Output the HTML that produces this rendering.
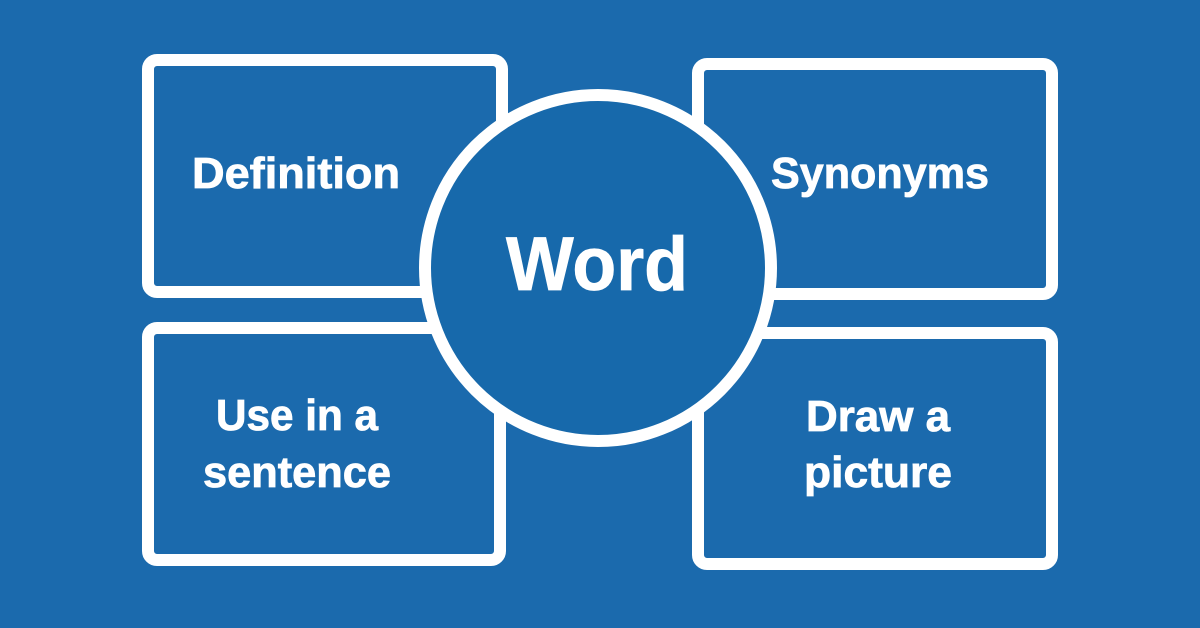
<!DOCTYPE html>
<html><head><style>html,body{margin:0;padding:0;background:#1b6aad;}svg{display:block}</style></head>
<body>
<svg width="1200" height="628" xmlns="http://www.w3.org/2000/svg">
<rect width="1200" height="628" fill="#1b6aad"/>
<g fill="none" stroke="#fff" stroke-width="12">
<rect x="148" y="60" width="354" height="232" rx="9"/>
<rect x="698" y="64" width="354" height="230" rx="9"/>
<rect x="148" y="328" width="352" height="232" rx="9"/>
<rect x="698" y="333" width="354" height="231" rx="9"/>
</g>
<circle cx="598" cy="268" r="173" fill="#1769ab" stroke="#fff" stroke-width="12"/>
<g fill="#fff" stroke="#fff" stroke-width="0.8" font-family="Liberation Sans, sans-serif" font-weight="bold" text-anchor="middle">
<text x="296" y="188" font-size="44" textLength="208" lengthAdjust="spacingAndGlyphs">Definition</text>
<text x="880" y="188" font-size="44" textLength="218" lengthAdjust="spacingAndGlyphs">Synonyms</text>
<text x="297" y="430" font-size="44" textLength="162" lengthAdjust="spacingAndGlyphs">Use in a</text>
<text x="297" y="487" font-size="44" textLength="188" lengthAdjust="spacingAndGlyphs">sentence</text>
<text x="878" y="431" font-size="44" textLength="144" lengthAdjust="spacingAndGlyphs">Draw a</text>
<text x="878" y="487" font-size="44" textLength="148" lengthAdjust="spacingAndGlyphs">picture</text>
<text x="597" y="290" font-size="76" textLength="182" lengthAdjust="spacingAndGlyphs">Word</text>
</g>
</svg>
</body></html>
